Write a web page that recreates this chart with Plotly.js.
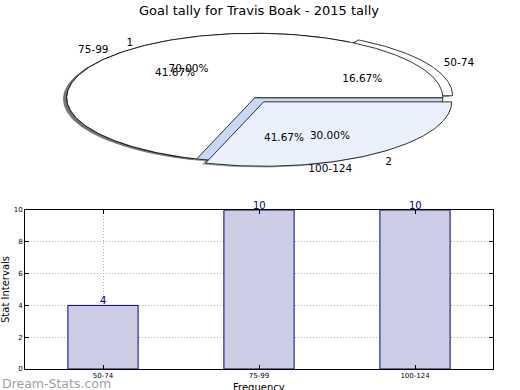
<!DOCTYPE html>
<html><head><meta charset="utf-8">
<script src="https://cdn.plot.ly/plotly-3.0.1.min.js"></script>
<style>html,body{margin:0;padding:0;background:#fff}</style>
</head><body><div id="chart" style="width:520px;height:390px"></div>
<script>
// ---- data ----
const pieALabels = ['50-74', '75-99', '100-124'];
const pieAValues = [4, 10, 10];
const pieBLabels = ['1', '2'];
const pieBValues = [7, 3];
const barCategories = ['50-74', '75-99', '100-124'];
const barValues = [4, 10, 10];
const yTickValues = [0, 2, 4, 6, 8, 10];

// ---- styles ----
const pieAColors = ['#ffffff', '#ffffff', '#c6d9f8'];
const pieBColors = ['#ffffff', '#ebf1fc'];
const pieAExplode = [0.06, 0, 0];
const pieBExplode = [0, 0.08];
const TEXT_DROP = 0.05;
const FONT = 'DejaVu Sans, sans-serif';

function wedgeGeometry(values, explode) {
  const total = values.reduce((a, b) => a + b, 0);
  let acc = 0;
  return values.map((v, i) => {
    const t1 = acc / total * 360, t2 = (acc + v) / total * 360;
    acc += v;
    const mid = (t1 + t2) / 2 * Math.PI / 180;
    const ox = explode[i] * Math.cos(mid), oy = explode[i] * Math.sin(mid);
    const xs = [ox], ys = [oy];
    const n = Math.max(2, Math.ceil(t2 - t1));
    for (let k = 0; k <= n; k++) {
      const a = (t1 + (t2 - t1) * k / n) * Math.PI / 180;
      xs.push(ox + Math.cos(a)); ys.push(oy + Math.sin(a));
    }
    xs.push(ox); ys.push(oy);
    return {xs, ys, mid, ox, oy, frac: v / total};
  });
}

const geoA = wedgeGeometry(pieAValues, pieAExplode);
const geoB = wedgeGeometry(pieBValues, pieBExplode);

const traces = [];
// shadows first
[geoA, geoB].forEach(g => g.forEach(w => {
  traces.push({type: 'scatter', mode: 'lines', x: w.xs.map(x => x - 0.02), y: w.ys.map(y => y - 0.02),
    fill: 'toself', fillcolor: 'rgba(40,40,40,0.4)', line: {width: 0}, xaxis: 'x2', yaxis: 'y2',
    hoverinfo: 'skip', showlegend: false});
}));
geoA.forEach((w, i) => traces.push({type: 'scatter', mode: 'lines', x: w.xs, y: w.ys, fill: 'toself',
  fillcolor: pieAColors[i], line: {color: '#000', width: 0.8}, xaxis: 'x2', yaxis: 'y2', hoverinfo: 'skip', showlegend: false}));
geoB.forEach((w, i) => traces.push({type: 'scatter', mode: 'lines', x: w.xs, y: w.ys, fill: 'toself',
  fillcolor: pieBColors[i], line: {color: '#000', width: 0.8}, xaxis: 'x2', yaxis: 'y2', hoverinfo: 'skip', showlegend: false}));

function pieTexts(geo, labels) {
  const lx = [], ly = [], lt = [], lp = [], px = [], py = [], pt = [];
  geo.forEach((w, i) => {
    const c = Math.cos(w.mid), s = Math.sin(w.mid);
    lx.push(w.ox + 1.1 * c); ly.push(w.oy + 1.1 * s - TEXT_DROP); lt.push(labels[i]);
    lp.push(c < 0 ? 'middle left' : 'middle right');
    px.push(w.ox + 0.6 * c); py.push(w.oy + 0.6 * s - TEXT_DROP); pt.push((w.frac * 100).toFixed(2) + '%');
  });
  traces.push({type: 'scatter', mode: 'text', x: lx, y: ly, text: lt, textposition: lp,
    textfont: {family: FONT, size: 10.5, color: '#000'}, marker: {size: 1}, cliponaxis: false,
    xaxis: 'x2', yaxis: 'y2', hoverinfo: 'skip', showlegend: false});
  traces.push({type: 'scatter', mode: 'text', x: px, y: py, text: pt, textposition: 'middle center',
    textfont: {family: FONT, size: 10.5, color: '#000'}, cliponaxis: false,
    xaxis: 'x2', yaxis: 'y2', hoverinfo: 'skip', showlegend: false});
}
pieTexts(geoA, pieALabels);
pieTexts(geoB, pieBLabels);

traces.push({type: 'bar', x: barCategories, y: barValues, width: 0.45,
  marker: {color: '#ccccE5', line: {color: '#000080', width: 1}}, hoverinfo: 'skip', showlegend: false});

const annotations = barCategories.map((c, i) => ({x: c, y: barValues[i], xref: 'x', yref: 'y',
  text: String(barValues[i]), showarrow: false, yanchor: 'bottom', yshift: -3,
  font: {family: FONT, size: 10, color: '#000080'}}));
annotations.push({text: 'Dream-Stats.com', xref: 'paper', yref: 'paper', x: -0.0534, y: -0.038,
  xanchor: 'left', yanchor: 'middle', showarrow: false, font: {family: FONT, size: 12.5, color: '#a0a0a0'}});
annotations.push({text: 'Frequency', xref: 'paper', yref: 'paper', x: 0.5, y: -0.05,
  xanchor: 'center', yanchor: 'middle', showarrow: false, font: {family: FONT, size: 10, color: '#000'}});

const gridStyle = {showgrid: true, gridcolor: '#b0b0b0', griddash: '1px,2px', gridwidth: 1};
const layout = {
  width: 520, height: 390,
  margin: {l: 25, r: 27, t: 0, b: 21},
  paper_bgcolor: '#fff', plot_bgcolor: '#fff',
  font: {family: FONT, color: '#000'},
  title: {text: 'Goal tally for Travis Boak - 2015 tally', font: {family: FONT, size: 13, color: '#000'},
    x: 0.5, xref: 'paper', xanchor: 'center', y: 0.974, yref: 'container', yanchor: 'middle'},
  bargap: 0,
  xaxis: Object.assign({domain: [0, 1], anchor: 'y', type: 'category', range: [-0.5, 2.5],
    tickfont: {size: 7}, ticks: 'inside', ticklen: 4, tickcolor: '#000', showline: true, mirror: 'ticks',
    linecolor: '#000', linewidth: 1, zeroline: false, automargin: false}, gridStyle),
  yaxis: Object.assign({domain: [0, 0.4309], anchor: 'x', range: [0, 10], tickvals: yTickValues,
    tickfont: {size: 7}, ticks: 'inside', ticklen: 4, tickcolor: '#000', showline: true, mirror: 'ticks',
    linecolor: '#000', linewidth: 1, zeroline: false, automargin: false,
    title: {text: 'Stat Intervals', font: {size: 10}, standoff: 2}}, gridStyle),
  xaxis2: {domain: [0, 1], anchor: 'y2', range: [-1.2223, 1.267], visible: false, fixedrange: true},
  yaxis2: {domain: [0.5122, 0.9458], anchor: 'x2', range: [-1.278, 1.2065], visible: false, fixedrange: true},
  annotations: annotations,
  showlegend: false
};
Plotly.newPlot('chart', traces, layout, {staticPlot: true, displayModeBar: false});
</script></body></html>
